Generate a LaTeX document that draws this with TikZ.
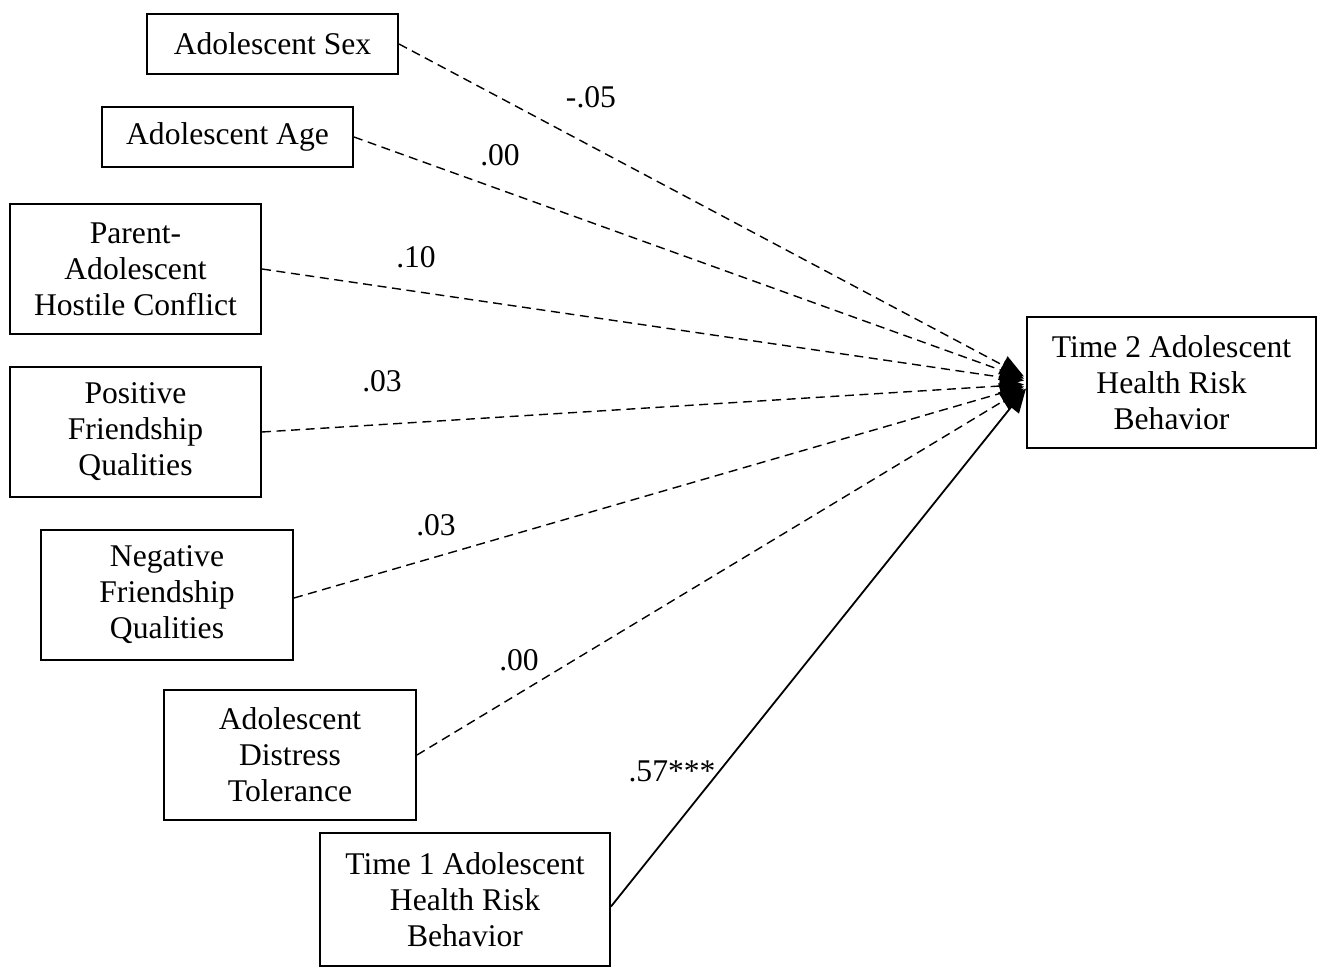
\documentclass[tikz,border=0pt]{standalone}
\usepackage{fontspec}
\setmainfont{Liberation Serif}
\usetikzlibrary{arrows.meta,calc}
\begin{document}
\begin{tikzpicture}[x=0.5pt,y=-0.5pt,
  varbox/.style={draw,line width=1pt,inner sep=0pt,align=center,
    font=\fontsize{15.8}{18}\selectfont},
  coef/.style={font=\fontsize{15.8}{18}\selectfont,inner sep=0pt},
  pathd/.style={dash pattern=on 4.5pt off 2.8pt,line width=0.7pt,
    -{Triangle[length=12pt,width=10pt]}},
  paths/.style={line width=0.9pt,-{Triangle[length=12pt,width=10pt]}}]
\useasboundingbox (0,0) rectangle (1322,972);

% predictors
\node[varbox,minimum width=125.5pt,minimum height=30pt] (sex) at (272.5,44) {Adolescent Sex};
\node[varbox,minimum width=125.5pt,minimum height=30pt] (age) at (227.5,137) {Adolescent Age};
\node[varbox,minimum width=125.5pt,minimum height=65pt] (conf) at (135.5,269) {Parent-\\Adolescent\\Hostile Conflict};
\node[varbox,minimum width=125.5pt,minimum height=65pt] (pos) at (135.5,432) {Positive\\Friendship\\Qualities};
\node[varbox,minimum width=126pt,minimum height=65pt] (neg) at (167,595) {Negative\\Friendship\\Qualities};
\node[varbox,minimum width=126pt,minimum height=65pt] (dist) at (290,755) {Adolescent\\Distress\\Tolerance};
\node[varbox,minimum width=145pt,minimum height=66.5pt] (t1) at (465,899.5) {Time 1 Adolescent\\Health Risk\\Behavior};

% outcome
\node[varbox,minimum width=144.5pt,minimum height=65.5pt] (t2) at (1171.5,382.5) {Time 2 Adolescent\\Health Risk\\Behavior};

% paths
\draw[pathd] (sex.east) -- ($(t2.west)+(-2,-6)$);
\draw[pathd] (age.east) -- ($(t2.west)+(-2,-4)$);
\draw[pathd] (conf.east) -- ($(t2.west)+(-2,-2)$);
\draw[pathd] (pos.east) -- ($(t2.west)+(-2,2)$);
\draw[pathd] ($(neg.east)+(0,3)$) -- ($(t2.west)+(-2,4)$);
\draw[pathd] (dist.east) -- ($(t2.west)+(-2,6)$);
\draw[paths] ($(t1.east)+(0,7)$) -- ($(t2.west)+(0,6)$);

% coefficients
\node[coef] (c1) at (591,97) {-.05};
\node[coef] (c2) at (500,155) {.00};
\node[coef] (c3) at (416,257) {.10};
\node[coef] (c4) at (382,381) {.03};
\node[coef] (c5) at (436,525) {.03};
\node[coef] (c6) at (519,660) {.00};
\node[coef] (c7) at (672,771) {.57***};
\end{tikzpicture}
\end{document}
